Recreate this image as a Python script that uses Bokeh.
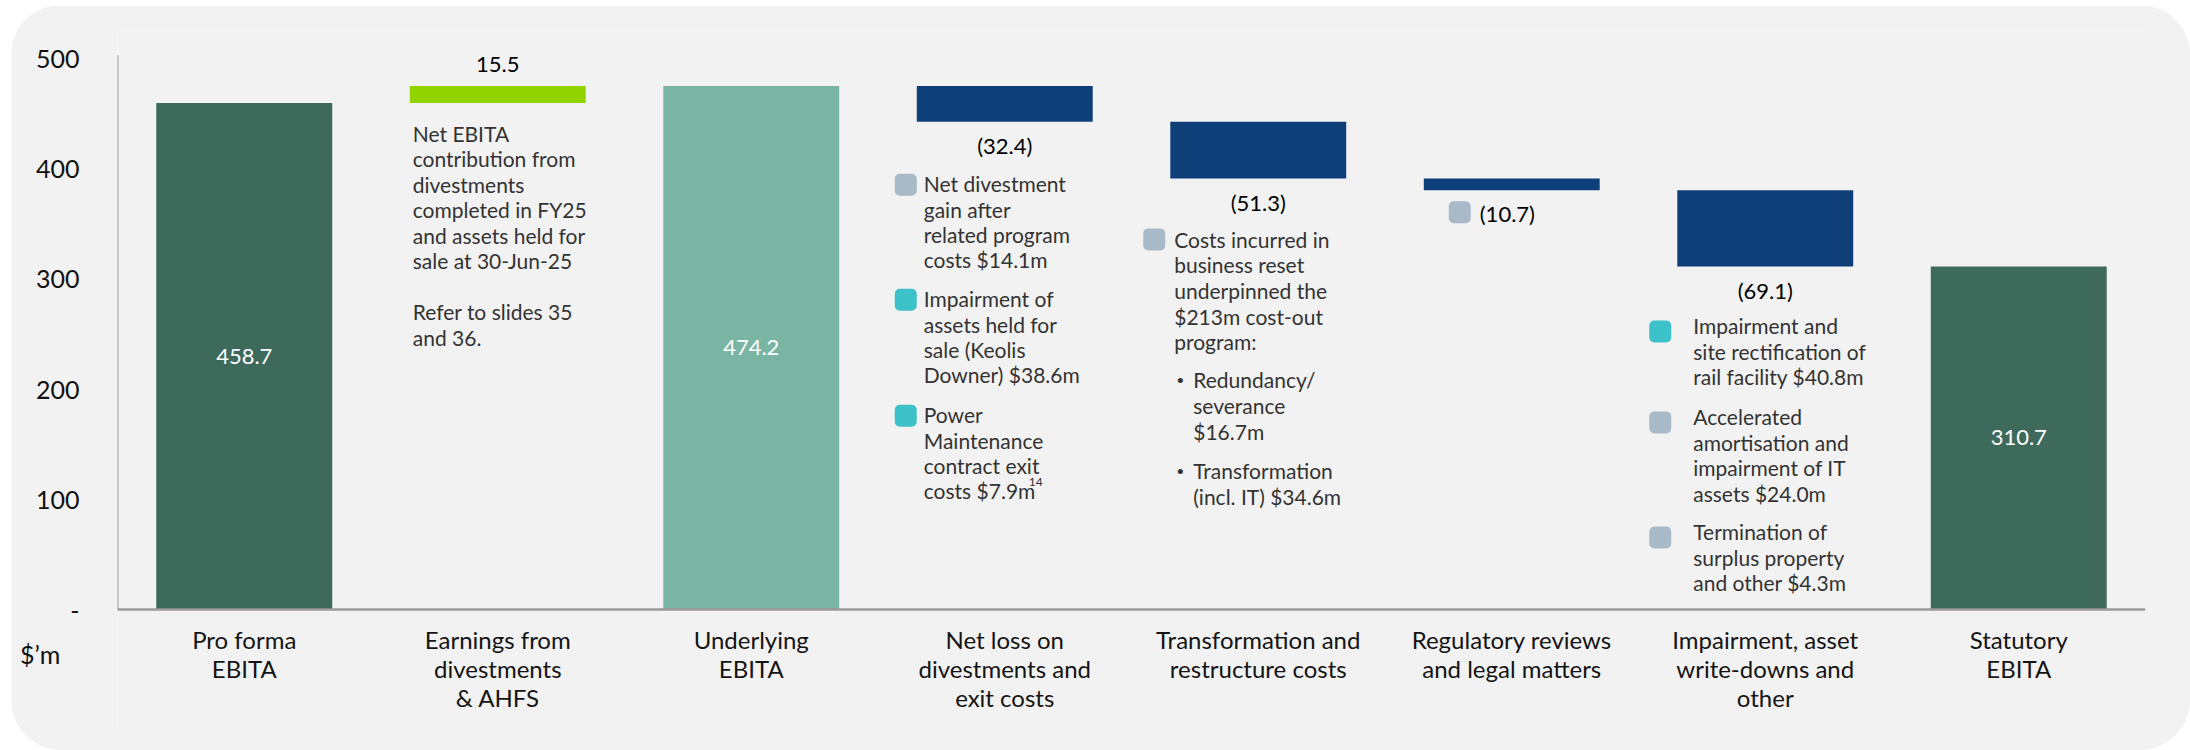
from bokeh.plotting import figure
from bokeh.models import FactorRange, Range1d, FixedTicker
from bokeh.embed import file_html
from bokeh.resources import INLINE
from bokeh.core.properties import value

# ---------------- data ----------------
categories = ["Pro forma\nEBITA", "Earnings from\ndivestments\n& AHFS", "Underlying\nEBITA",
              "Net loss on\ndivestments and\nexit costs", "Transformation and\nrestructure costs",
              "Regulatory reviews\nand legal matters", "Impairment, asset\nwrite-downs and\nother",
              "Statutory\nEBITA"]
values = [458.7, 15.5, 474.2, -32.4, -51.3, -10.7, -69.1, 310.7]
kinds = ["total", "delta", "total", "delta", "delta", "delta", "delta", "total"]
value_labels = ["458.7", "15.5", "474.2", "(32.4)", "(51.3)", "(10.7)", "(69.1)", "310.7"]
y_ticks = [0, 100, 200, 300, 400, 500]
y_tick_labels = ["-", "100", "200", "300", "400", "500"]
unit_label = "$\u2019m"
unit_pos = -40

earn_note = ["Net EBITA", "contribution from", "divestments", "completed in FY25",
             "and assets held for", "sale at 30-Jun-25", "", "Refer to slides 35", "and 36."]
netloss_items = [["Net divestment", "gain after", "related program", "costs $14.1m"],
                 ["Impairment of", "assets held for", "sale (Keolis", "Downer) $38.6m"],
                 ["Power", "Maintenance", "contract exit", "costs $7.9m"]]
netloss_footnote = "14"
transf_intro = ["Costs incurred in", "business reset", "underpinned the", "$213m cost-out", "program:"]
transf_bullets = [["Redundancy/", "severance", "$16.7m"], ["Transformation", "(incl. IT) $34.6m"]]
impair_items = [["Impairment and", "site rectification of", "rail facility $40.8m"],
                ["Accelerated", "amortisation and", "impairment of IT", "assets $24.0m"],
                ["Termination of", "surplus property", "and other  $4.3m"]]

# ---------------- styles ----------------
C_TOTAL = "#3e6a5c"
C_UNDER = "#7ab5a3"
C_UP = "#92d400"
C_DOWN = "#0f3f78"
SQ_GRAY = "#a8b9c7"
SQ_TEAL = "#3cc2c8"
BG = "#f2f2f2"
FONT = "Lato"
netloss_colors = [SQ_GRAY, SQ_TEAL, SQ_TEAL]
impair_colors = [SQ_TEAL, SQ_GRAY, SQ_GRAY]
reg_color = SQ_GRAY
transf_color = SQ_GRAY

# geometry (pixels); figure placed at page (11, 5)
W, H = 2179, 745
FX = 253.5          # px per category
PXU = 1.104         # px per $m
BORDER_L, BORDER_R, BORDER_T, BORDER_B = 106, 45, 25, 20
FRAME_H = H - BORDER_T - BORDER_B
BASE_FROM_TOP = 579  # baseline distance from frame top
y_end = BASE_FROM_TOP / PXU
y_start = -(FRAME_H - BASE_FROM_TOP) / PXU

# ---------------- waterfall computation ----------------
bottoms, tops, colors = [], [], []
run = 0.0
for i, (v, k) in enumerate(zip(values, kinds)):
    if k == "total":
        bottoms.append(0.0); tops.append(v); run = v
        colors.append(C_UNDER if i == 2 else C_TOTAL)
    else:
        new = run + v
        bottoms.append(min(run, new)); tops.append(max(run, new)); run = new
        colors.append(C_UP if v > 0 else C_DOWN)

p = figure(width=W, height=H, x_range=FactorRange(*categories),
           y_range=Range1d(y_start, y_end), output_backend="svg",
           toolbar_location=None, x_axis_location=None, y_axis_location="left",
           min_border_left=BORDER_L, min_border_right=BORDER_R,
           min_border_top=BORDER_T, min_border_bottom=BORDER_B)
p.background_fill_color = BG
p.border_fill_color = BG
p.outline_line_color = None
p.grid.visible = False
p.styles = {"border-radius": "50px", "overflow": "hidden",
            "margin-left": "11px", "margin-top": "5px"}

ya = p.yaxis[0]
ya.ticker = FixedTicker(ticks=y_ticks + [unit_pos])
overrides = {t: l for t, l in zip(y_ticks, y_tick_labels)}
overrides[unit_pos] = unit_label + "\u00a0\u00a0\u00a0"
ya.major_label_overrides = overrides
ya.axis_line_color = None
ya.major_tick_line_color = None
ya.minor_tick_line_color = None
ya.major_label_standoff = 32
ya.major_label_text_font = FONT
ya.major_label_text_font_size = "25px"
ya.major_label_text_color = "#111111"

def xd(i, dx=0.0):
    return i + 0.5 + dx / FX

def yoff(base, px):
    """data y that is px pixels below base"""
    return base - px / PXU

# axis lines
p.segment(x0=[0], y0=[0], x1=[0], y1=[y_ticks[-1] + 2], line_color="#9a9a9a", line_width=2)
p.vbar(x=categories, bottom=bottoms, top=tops, width=0.694, fill_color=colors, line_color=None)
p.segment(x0=[0], y0=[0], x1=[len(categories)], y1=[0], line_color="#9a9a9a", line_width=2.5)

# ---------- value labels ----------
lab_x, lab_y, lab_t = [], [], []
in_x, in_y, in_t = [], [], []
for i, (k, b, t, lbl) in enumerate(zip(kinds, bottoms, tops, value_labels)):
    if k == "total":
        in_x.append(xd(i)); in_y.append((b + t) / 2); in_t.append(lbl)
    elif values[i] > 0:
        lab_x.append(xd(i)); lab_y.append(yoff(t, -21)); lab_t.append(lbl)
    elif i == 5:
        pass
    else:
        lab_x.append(xd(i)); lab_y.append(yoff(b, 24)); lab_t.append(lbl)

p.text(x=lab_x, y=lab_y, text=lab_t, text_font=value(FONT), text_font_size="22px",
       text_color="#000000", text_align="center", text_baseline="middle")
p.text(x=in_x, y=in_y, text=in_t, text_font=value(FONT), text_font_size="22px",
       text_color="#ffffff", text_align="center", text_baseline="middle")
# regulatory label with its marker
p.text(x=[xd(5, -32)], y=[yoff(bottoms[5], 23)], text=[value_labels[5]], text_font=value(FONT),
       text_font_size="22px", text_color="#000000", text_align="left", text_baseline="middle")

# ---------- annotations ----------
ax, ay, at = [], [], []
sx, sy, sc = [], [], []
bx, by = [], []
LH = 25.5

for j, line in enumerate(earn_note):
    ax.append(xd(1, -85)); ay.append(yoff(bottoms[1], 30 + j * LH)); at.append(line)

for item, col, g in zip(netloss_items, netloss_colors, [62, 177, 293]):
    for j, line in enumerate(item):
        ax.append(xd(3, -81)); ay.append(yoff(bottoms[3], g + j * 25.3)); at.append(line)
    sx.append(xd(3, -99)); sy.append(yoff(bottoms[3], g + 1)); sc.append(col)

for j, line in enumerate(transf_intro):
    ax.append(xd(4, -84)); ay.append(yoff(bottoms[4], 61 + j * 25.6)); at.append(line)
sx.append(xd(4, -104)); sy.append(yoff(bottoms[4], 61)); sc.append(transf_color)
for blines, g in zip(transf_bullets, [201, 292]):
    bx.append(xd(4, -82)); by.append(yoff(bottoms[4], g))
    for j, line in enumerate(blines):
        ax.append(xd(4, -65)); ay.append(yoff(bottoms[4], g + j * 26)); at.append(line)

sx.append(xd(5, -52)); sy.append(yoff(bottoms[5], 22)); sc.append(reg_color)

for item, col, g in zip(impair_items, impair_colors, [59, 150, 265]):
    for j, line in enumerate(item):
        ax.append(xd(6, -72)); ay.append(yoff(bottoms[6], g + j * 25.7)); at.append(line)
    sx.append(xd(6, -105)); sy.append(yoff(bottoms[6], g + 6)); sc.append(col)

p.text(x=ax, y=ay, text=at, text_font=value(FONT), text_font_size="21px",
       text_color="#333333", text_align="left", text_baseline="middle")
p.rect(x=sx, y=sy, width=22, height=22, width_units="screen", height_units="screen",
       fill_color=sc, line_color=None, border_radius=5)
p.text(x=bx, y=by, text=["\u2022"] * len(bx), text_font=value(FONT), text_font_size="14px",
       text_color="#333333", text_align="left", text_baseline="middle")
p.text(x=[xd(3, 24)], y=[yoff(bottoms[3], 293 + 3 * 25.3 - 9)], text=[netloss_footnote],
       text_font=value(FONT), text_font_size="12px", text_color="#333333",
       text_align="left", text_baseline="middle")

# ---------- category labels ----------
cx, cy, ct = [], [], []
for i, cat in enumerate(categories):
    for j, line in enumerate(cat.split("\n")):
        cx.append(xd(i)); cy.append(yoff(0, 30 + j * 29)); ct.append(line)
p.text(x=cx, y=cy, text=ct, text_font=value(FONT), text_font_size="24px",
       text_color="#141414", text_align="center", text_baseline="middle")

open("out.html", "w").write(file_html(p, INLINE))
